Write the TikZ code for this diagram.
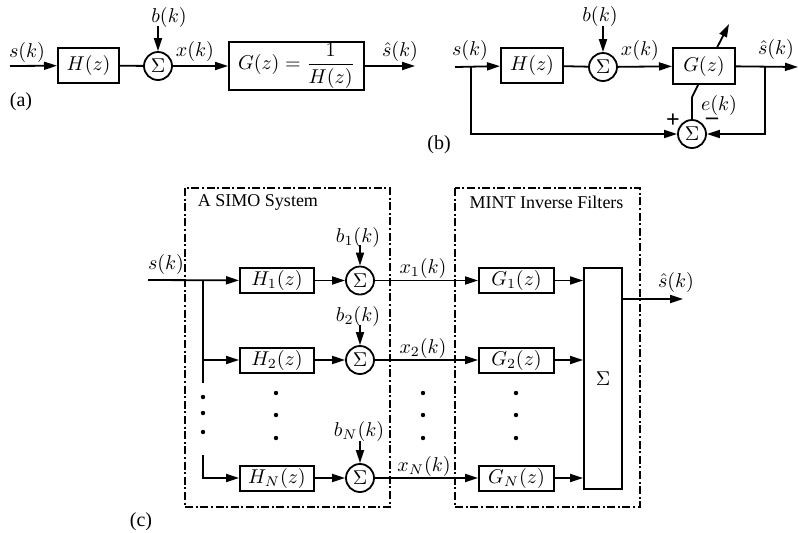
\documentclass[tikz,border=0pt]{standalone}
\usepackage[no-math]{fontspec}
\setmainfont{Liberation Serif}
\usetikzlibrary{arrows.meta}
\tikzset{
  blk/.style={draw, line width=1pt, fill=white, inner sep=0pt},
  sumc/.style={circle, draw, line width=0.9pt, fill=white, minimum size=14pt, inner sep=0pt},
  wire/.style={line width=0.9pt},
  sig/.style={line width=0.9pt, -{Triangle[length=6.5pt,width=4pt]}},
  lbl/.style={inner sep=0pt},
  sgn/.style={inner sep=0pt, font=\fontsize{12}{12}\bfseries},
  frame/.style={line width=0.7pt, dash pattern=on 4pt off 1.3pt on 1pt off 1.3pt},
  title/.style={inner sep=0pt, font=\fontsize{9}{11}\selectfont},
  vdot/.style={fill=black}
}
\begin{document}
\begin{tikzpicture}[x=0.5pt, y=-0.5pt, font=\fontsize{10}{12}\selectfont]
\useasboundingbox (0,0) rectangle (799,532);

% ---------------- (a) direct inverse ----------------
\coordinate (a-in) at (10,66);
\node[blk, minimum width=30.5pt, minimum height=17.5pt] (a-H) at (88.5,65.5) {$H(z)$};
\node[sumc] (a-S) at (158,66) {$\Sigma$};
\coordinate (a-b) at (158,26);
\node[blk, minimum width=67.5pt, minimum height=24pt] (a-G) at (296.5,66)
  {$\displaystyle G(z)=\frac{1}{H(z)}$};
\coordinate (a-out) at (415,66);
\draw[sig] (a-in) -- (a-H);
\draw[wire] (a-H) -- (a-S);
\draw[sig] (a-b) -- (a-S);
\draw[sig] (a-S) -- (a-G);
\draw[sig] (a-G) -- (a-out);
\node[lbl] (a-ls) at (27,52) {$s(k)$};
\node[lbl] (a-lb) at (169,17) {$b(k)$};
\node[lbl] (a-lx) at (195,51) {$x(k)$};
\node[lbl] (a-ly) at (400,51) {$\hat{s}(k)$};
\node[lbl] (a-tag) at (21,102) {(a)};

% ---------------- (b) adaptive inverse ----------------
\coordinate (b-in) at (455,67);
\coordinate (b-j1) at (471,67);
\node[blk, minimum width=31pt, minimum height=17.5pt] (b-H) at (532,65.5) {$H(z)$};
\node[sumc] (b-S) at (603,67) {$\Sigma$};
\coordinate (b-b) at (603,26);
\node[sumc] (b-E) at (692,134) {$\Sigma$};
\coordinate (b-e) at (692,97);
\coordinate (b-adapt) at (729,24);
\coordinate (b-j2) at (765,67);
\coordinate (b-out) at (798,67);
% adaptation arrow runs behind the filter block
\draw[wire] (b-E) -- (b-e);
\draw[sig] (b-e) -- (b-adapt);
\node[blk, minimum width=31pt, minimum height=18pt] (b-G) at (704,66) {$G(z)$};
\draw[sig] (b-in) -- (b-H);
\draw[wire] (b-H) -- (b-S);
\draw[sig] (b-b) -- (b-S);
\draw[sig] (b-S) -- (b-G);
\draw[sig] (b-G) -- (b-out);
\draw[sig] (b-j1) |- (b-E);
\draw[sig] (b-j2) |- (b-E);
\node[lbl] (b-ls) at (470,50) {$s(k)$};
\node[lbl] (b-lb) at (600,16) {$b(k)$};
\node[lbl] (b-lx) at (640,50) {$x(k)$};
\node[lbl] (b-ly) at (776,49) {$\hat{s}(k)$};
\node[lbl] (b-le) at (719,105) {$e(k)$};
\node[sgn] (b-plus) at (673,121) {+};
\node[sgn] (b-minus) at (712,121) {–};
\node[lbl] (b-tag) at (439,145) {(b)};

% ---------------- (c) SIMO system with MINT inverse filters ----------------
\draw[frame] (185,188) rectangle (390,507);
\draw[frame] (455,188) rectangle (640,507);
\node[title] (c-t1) at (258,202) {A SIMO System};
\node[title] (c-t2) at (546.5,202) {MINT Inverse Filters};

\coordinate (c-in) at (148,280);
\coordinate (c-j1) at (203,280);
\coordinate (c-j2) at (203,360);
\coordinate (c-d1) at (203,383);
\coordinate (c-d2) at (203,455);

\node[blk, minimum width=37pt, minimum height=12.5pt] (c-H1) at (277,280.5) {$H_1(z)$};
\node[blk, minimum width=37pt, minimum height=12.5pt] (c-H2) at (277,360) {$H_2(z)$};
\node[blk, minimum width=37pt, minimum height=12.5pt] (c-HN) at (277,478) {$H_N(z)$};

\node[sumc] (c-S1) at (360,280.5) {$\Sigma$};
\node[sumc] (c-S2) at (360,360) {$\Sigma$};
\node[sumc] (c-SN) at (360,478) {$\Sigma$};

\coordinate (c-b1) at (360,245);
\coordinate (c-b2) at (360,325);
\coordinate (c-bN) at (360,441);

\node[blk, minimum width=37.5pt, minimum height=12.5pt] (c-G1) at (516.5,280.5) {$G_1(z)$};
\node[blk, minimum width=37.5pt, minimum height=12.5pt] (c-G2) at (516.5,360) {$G_2(z)$};
\node[blk, minimum width=37.5pt, minimum height=12.5pt] (c-GN) at (516.5,478) {$G_N(z)$};

\node[blk, minimum width=19pt, minimum height=110.5pt] (c-Sum) at (603,378.5) {$\Sigma$};
\coordinate (c-out) at (683,299);

\draw[sig] (c-in) -- (c-H1);
\draw[wire] (c-j1) -- (c-d1);
\draw[sig] (c-j2) -- (c-H2);
\draw[sig] (c-d2) |- (c-HN);

\foreach \i in {1,2,N}{
  \draw[sig] (c-H\i) -- (c-S\i);
  \draw[sig] (c-b\i) -- (c-S\i);
  \draw[sig] (c-S\i) -- (c-G\i);
  \draw[sig] (c-G\i) -- (c-G\i -| c-Sum.west);
}
\draw[sig] (c-out -| c-Sum.east) -- (c-out);

\node[lbl] (c-ls) at (166,264) {$s(k)$};
\node[lbl] (c-lb1) at (358,237) {$b_1(k)$};
\node[lbl] (c-lb2) at (358,316) {$b_2(k)$};
\node[lbl] (c-lbN) at (359,431) {$b_N(k)$};
\node[lbl] (c-lx1) at (423,268) {$x_1(k)$};
\node[lbl] (c-lx2) at (423,348) {$x_2(k)$};
\node[lbl] (c-lxN) at (424,466) {$x_N(k)$};
\node[lbl] (c-ly) at (676,282) {$\hat{s}(k)$};
\node[lbl] (c-tag) at (141,522) {(c)};

% continuation dots
\foreach \y in {397,413,432} \fill[vdot] (203,\y) circle[radius=1.1pt];
\foreach \x in {276,423,516}
  \foreach \y in {393,415,438} \fill[vdot] (\x,\y) circle[radius=1.1pt];
\end{tikzpicture}
\end{document}
